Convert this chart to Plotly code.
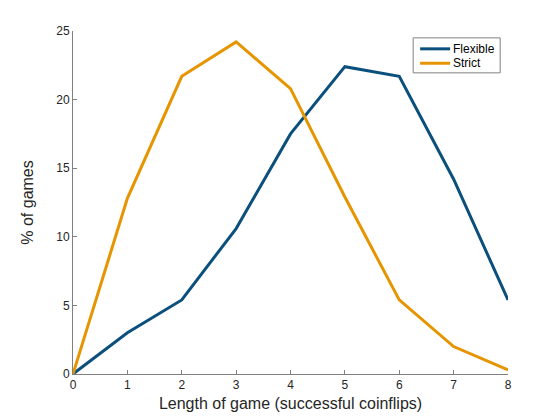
import plotly.graph_objects as go

# game length (successful coinflips) vs % of games
lengths = [0, 1, 2, 3, 4, 5, 6, 7, 8]
flexible = [0.0, 3.0, 5.4, 10.6, 17.5, 22.4, 21.7, 14.2, 5.4]
strict = [0.0, 12.8, 21.7, 24.2, 20.8, 12.9, 5.4, 2.0, 0.3]
series_names = ["Flexible", "Strict"]
colors = ["#0b4f7d", "#e69500"]

FONT = "Liberation Sans, Arial, Helvetica"

fig = go.Figure()
for name, ys, col in zip(series_names, [flexible, strict], colors):
    fig.add_trace(go.Scatter(x=lengths, y=ys, mode="lines", name=name,
                             line=dict(color=col, width=3)))

axis_common = dict(
    showgrid=False, zeroline=False,
    showline=True, linecolor="#808080", linewidth=1,
    ticks="inside", ticklen=4, tickcolor="#808080",
    tickfont=dict(family=FONT, size=12, color="#262626"),
    title_font=dict(family=FONT, size=16, color="#262626"),
)

fig.update_xaxes(range=[0, 8], dtick=1, title_text="Length of game (successful coinflips)",
                 title_standoff=6, **axis_common)
fig.update_yaxes(range=[0, 25], dtick=5, title_text="% of games",
                 title_standoff=18, **axis_common)

# MATLAB-style legend box drawn by hand (tight rows)
legend_rows = [0.948, 0.906]
shapes = [dict(type="rect", xref="paper", yref="paper", x0=0.782, x1=0.982,
               y0=0.878, y1=0.980, line=dict(color="#808080", width=1),
               fillcolor="white", layer="above")]
annotations = []
for name, col, yr in zip(series_names, colors, legend_rows):
    shapes.append(dict(type="line", xref="paper", yref="paper", x0=0.798, x1=0.867,
                       y0=yr, y1=yr, line=dict(color=col, width=3), layer="above"))
    annotations.append(dict(text=name, xref="paper", yref="paper", x=0.869, y=yr,
                            xanchor="left", yanchor="middle", showarrow=False,
                            font=dict(family=FONT, size=12, color="#000000")))

# page body adds an 8px offset, so trim the left/top margins accordingly
fig.update_layout(
    width=560, height=420,
    margin=dict(l=65, r=60, t=23, b=54, autoexpand=False),
    plot_bgcolor="white", paper_bgcolor="white",
    font=dict(family=FONT, color="#262626"),
    showlegend=False,
    shapes=shapes,
    annotations=annotations,
)

fig.write_html("out.html")
